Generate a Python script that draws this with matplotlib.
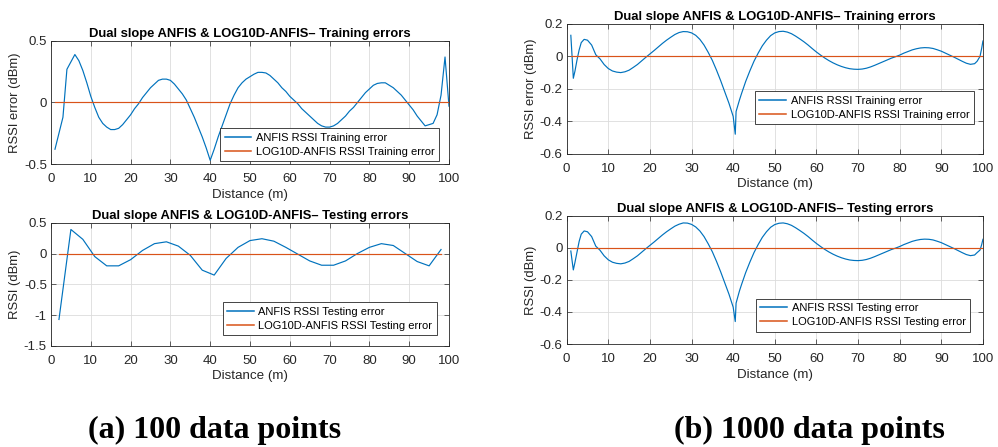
"""
ANFIS vs LOG10D-ANFIS error plots, 100 and 1000 data point runs
"""
import matplotlib
matplotlib.use("Agg")
import matplotlib.pyplot as plt

# ---- (a) 100 data points ----
dist_train_a = list(range(1, 101))
anfis_train_a = [
    -0.38, -0.25, -0.12, 0.27, 0.33, 0.39, 0.34, 0.26, 0.16, 0.05,
    -0.04, -0.12, -0.17, -0.20, -0.22, -0.22, -0.21, -0.18, -0.14, -0.10,
    -0.05, -0.01, 0.04, 0.08, 0.12, 0.15, 0.18, 0.19, 0.19, 0.18,
    0.15, 0.11, 0.07, 0.02, -0.05, -0.12, -0.20, -0.28, -0.37, -0.47,
    -0.38, -0.28, -0.19, -0.10, -0.01, 0.06, 0.12, 0.16, 0.19, 0.21,
    0.23, 0.245, 0.245, 0.24, 0.22, 0.19, 0.16, 0.12, 0.09, 0.05,
    0.02, -0.01, -0.05, -0.08, -0.11, -0.14, -0.17, -0.19, -0.20, -0.20,
    -0.19, -0.17, -0.14, -0.11, -0.07, -0.04, 0.00, 0.04, 0.08, 0.11,
    0.14, 0.155, 0.16, 0.16, 0.14, 0.12, 0.09, 0.06, 0.02, -0.02,
    -0.06, -0.11, -0.15, -0.19, -0.18, -0.17, -0.10, 0.06, 0.37, -0.03,
]
log10d_train_a = [0.0] * 100

dist_test_a = [2, 5, 8, 11, 14, 17, 20, 23, 26, 29, 32, 35, 38, 41, 44, 47, 50,
               53, 56, 59, 62, 65, 68, 71, 74, 77, 80, 83, 86, 89, 92, 95, 98]
anfis_test_a = [-1.07, 0.39, 0.23, -0.05, -0.20, -0.20, -0.10, 0.05, 0.16, 0.19,
                0.12, -0.03, -0.27, -0.35, -0.08, 0.10, 0.21, 0.24, 0.20, 0.10,
                -0.01, -0.12, -0.19, -0.19, -0.12, 0.00, 0.10, 0.16, 0.13, 0.00,
                -0.13, -0.20, 0.065]
log10d_test_a = [0.0] * 33

# ---- (b) 1000 data points ----
dist_b = [1.0, 1.3, 1.6, 2.0, 2.5, 3.0, 3.5, 4.2, 5.0, 6.0, 7.0, 8.0, 9.0, 10.0,
          11.0, 12.0, 13.0, 14.0, 15.0, 16.0, 17.0, 18.0, 19.0, 20.0, 21.0, 22.0,
          23.0, 24.0, 25.0, 26.0, 27.0, 28.0, 29.0, 30.0, 31.0, 32.0, 33.0, 34.0,
          35.0, 36.0, 37.0, 38.0, 39.0, 40.0, 40.5, 40.7, 41.5, 42.0, 43.0, 44.0,
          45.0, 46.0, 47.0, 48.0, 49.0, 50.0, 51.0, 52.0, 53.0, 54.0, 55.0, 56.0,
          57.0, 58.0, 59.0, 60.0, 61.0, 62.0, 63.0, 64.0, 65.0, 66.0, 67.0, 68.0,
          69.0, 70.0, 71.0, 72.0, 73.0, 74.0, 75.0, 76.0, 77.0, 78.0, 79.0, 80.0,
          81.0, 82.0, 83.0, 84.0, 85.0, 86.0, 87.0, 88.0, 89.0, 90.0, 91.0, 92.0,
          93.0, 94.0, 95.0, 96.0, 97.0, 98.0, 98.6, 99.3, 99.7, 100.0]
anfis_train_b = [0.13, 0.0, -0.135, -0.09, -0.02, 0.04, 0.085, 0.105, 0.10, 0.07,
                 0.01, -0.015, -0.05, -0.075, -0.09, -0.097, -0.10, -0.095, -0.085,
                 -0.068, -0.05, -0.028, -0.006, 0.015, 0.036, 0.058, 0.08, 0.10,
                 0.118, 0.135, 0.147, 0.153, 0.152, 0.145, 0.13, 0.105, 0.07, 0.025,
                 -0.025, -0.085, -0.15, -0.22, -0.29, -0.37, -0.48, -0.34, -0.27,
                 -0.23, -0.155, -0.09, -0.03, 0.02, 0.065, 0.10, 0.128, 0.145, 0.153,
                 0.155, 0.15, 0.14, 0.125, 0.108, 0.09, 0.07, 0.048, 0.027, 0.008,
                 -0.01, -0.026, -0.04, -0.052, -0.062, -0.07, -0.076, -0.079, -0.08,
                 -0.078, -0.073, -0.065, -0.055, -0.044, -0.033, -0.022, -0.011,
                 -0.002, 0.008, 0.02, 0.03, 0.04, 0.047, 0.052, 0.054, 0.053, 0.049,
                 0.041, 0.032, 0.02, 0.008, -0.004, -0.017, -0.03, -0.042, -0.049,
                 -0.045, -0.03, 0.0, 0.05, 0.095]
anfis_test_b = [-0.02, -0.08, -0.138, -0.09, -0.025, 0.04, 0.085, 0.105, 0.10, 0.07,
                0.01, -0.015, -0.05, -0.075, -0.09, -0.097, -0.10, -0.095, -0.085,
                -0.068, -0.05, -0.028, -0.006, 0.015, 0.036, 0.058, 0.08, 0.10,
                0.118, 0.135, 0.147, 0.155, 0.154, 0.146, 0.13, 0.105, 0.07, 0.025,
                -0.025, -0.085, -0.15, -0.22, -0.29, -0.37, -0.46, -0.345, -0.27,
                -0.23, -0.155, -0.09, -0.03, 0.02, 0.065, 0.10, 0.128, 0.145, 0.153,
                0.155, 0.15, 0.14, 0.125, 0.108, 0.09, 0.07, 0.048, 0.027, 0.008,
                -0.01, -0.026, -0.04, -0.052, -0.062, -0.07, -0.076, -0.079, -0.08,
                -0.078, -0.073, -0.065, -0.055, -0.044, -0.033, -0.022, -0.011,
                -0.002, 0.008, 0.02, 0.03, 0.04, 0.047, 0.052, 0.054, 0.053, 0.049,
                0.041, 0.032, 0.02, 0.008, -0.004, -0.017, -0.03, -0.042, -0.049,
                -0.045, -0.03, -0.014, 0.02, 0.053]
log10d_b = [0.0] * len(dist_b)

x_ticks = [0, 10, 20, 30, 40, 50, 60, 70, 80, 90, 100]
y_ticks_a_train = [-0.5, 0, 0.5]
y_ticks_a_test = [-1.5, -1, -0.5, 0, 0.5]
y_ticks_b = [-0.6, -0.4, -0.2, 0, 0.2]

BLUE = "#0072BD"
ORANGE = "#D95319"
DARK = "#262626"

plt.rcParams["font.family"] = ["Liberation Sans", "DejaVu Sans"]


def tickText(v):
    # matlab style labels, plain hyphen for minus
    s = ("%g" % v)
    return s


def matlabAxes(ax, yticks, ylabel, title, legend_anchor):
    ax.set_xlim(0, 100)
    ax.set_ylim(yticks[0], yticks[-1])
    ax.set_xticks(x_ticks)
    ax.set_xticklabels([tickText(t) for t in x_ticks])
    ax.set_yticks(yticks)
    ax.set_yticklabels([tickText(t) for t in yticks])
    ax.tick_params(direction="in", top=True, right=True, length=3.5, width=0.5,
                   labelsize=9.5, colors=DARK, pad=3)
    ax.tick_params(axis="x", pad=6.5)
    for sp in ax.spines.values():
        sp.set_color(DARK)
        sp.set_linewidth(0.6)
    ax.grid(True, color="#dcdcdc", linewidth=0.6)
    ax.set_axisbelow(True)
    ax.set_xlabel("Distance (m)", fontsize=9.6, color=DARK, labelpad=2.5)
    ax.set_ylabel(ylabel, fontsize=9.4, color=DARK, labelpad=2)
    ax.set_title(title, fontsize=9.4, fontweight="bold", color="black", pad=3)
    leg = ax.legend(loc="lower right", bbox_to_anchor=legend_anchor, borderaxespad=0,
                    fontsize=8, fancybox=False, framealpha=1, handlelength=2.4,
                    handletextpad=0.4, borderpad=0.4, labelspacing=0.35)
    leg.get_frame().set_edgecolor(DARK)
    leg.get_frame().set_linewidth(0.6)
    for ln in leg.get_lines():
        ln.set_linewidth(1.1)


fig = plt.figure(figsize=(9.98, 4.47), dpi=100)

train_title = "Dual slope ANFIS & LOG10D-ANFIS\u2013 Training errors"
test_title = "Dual slope ANFIS & LOG10D-ANFIS\u2013 Testing errors"

# (a) training
ax1 = fig.add_axes([0.0511, 0.6331, 0.3988, 0.2752])
ax1.plot(dist_train_a, anfis_train_a, color=BLUE, lw=0.85, label="ANFIS RSSI Training error")
ax1.plot(dist_train_a, log10d_train_a, color=ORANGE, lw=0.85, label="LOG10D-ANFIS RSSI Training error")
matlabAxes(ax1, y_ticks_a_train, "RSSI error (dBm)", train_title, (0.975, 0.024))

# (a) testing
ax2 = fig.add_axes([0.0511, 0.2260, 0.3988, 0.2758])
ax2.plot(dist_test_a, anfis_test_a, color=BLUE, lw=0.85, label="ANFIS RSSI Testing error")
ax2.plot(dist_test_a, log10d_test_a, color=ORANGE, lw=0.85, label="LOG10D-ANFIS RSSI Testing error")
matlabAxes(ax2, y_ticks_a_test, "RSSI (dBm)", test_title, (0.969, 0.089))

# (b) training
ax3 = fig.add_axes([0.5678, 0.6562, 0.4171, 0.2902])
ax3.plot(dist_b, anfis_train_b, color=BLUE, lw=0.85, label="ANFIS RSSI Training error")
ax3.plot(dist_b, log10d_b, color=ORANGE, lw=0.85, label="LOG10D-ANFIS RSSI Training error")
matlabAxes(ax3, y_ticks_b, "RSSI error (dBm)", train_title, (0.978, 0.227))

# (b) testing
ax4 = fig.add_axes([0.5678, 0.2304, 0.4171, 0.2870])
ax4.plot(dist_b, anfis_test_b, color=BLUE, lw=0.85, label="ANFIS RSSI Testing error")
ax4.plot(dist_b, log10d_b, color=ORANGE, lw=0.85, label="LOG10D-ANFIS RSSI Testing error")
matlabAxes(ax4, y_ticks_b, "RSSI (dBm)", test_title, (0.969, 0.096))

# captions under each column
fig.text(0.215, 0.038, "(a) 100 data points", ha="center", va="center",
         fontsize=23, fontweight="bold", family="Liberation Serif")
fig.text(0.811, 0.038, "(b) 1000 data points", ha="center", va="center",
         fontsize=23, fontweight="bold", family="Liberation Serif")

fig.savefig("out.png", dpi=100)
plt.close(fig)
